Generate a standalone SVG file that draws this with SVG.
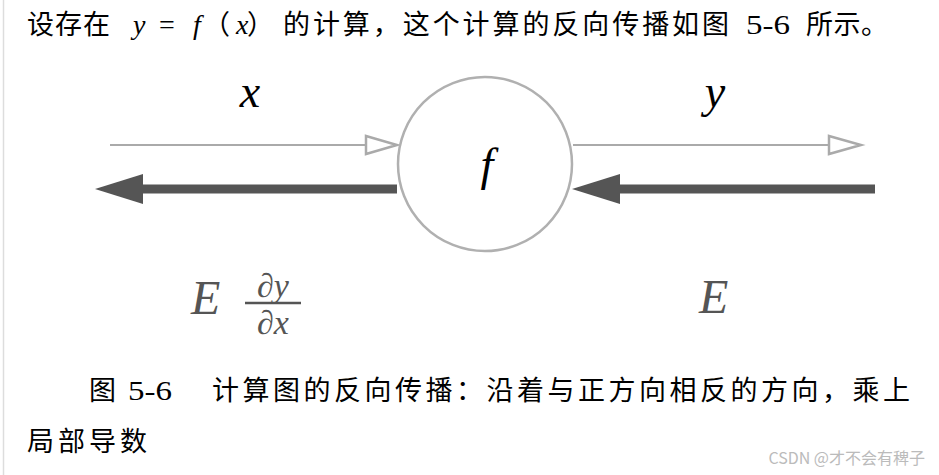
<svg xmlns="http://www.w3.org/2000/svg" width="939" height="475" viewBox="0 0 939 475">
<defs>
<style>
.cjk{font-family:"Noto Sans CJK SC","Noto Sans",sans-serif;font-size:27px;fill:#000}
.cjkser{font-family:"Liberation Serif","Noto Sans CJK SC",serif;font-size:28px;fill:#000}
.math{font-family:"Liberation Serif","DejaVu Serif",serif;font-style:italic;fill:#000}
.grey{fill:#555}
.thin{stroke:#aaa;stroke-width:2;fill:none}
.thick{stroke:#555;stroke-width:9;fill:none}
.openhead{fill:#fff;stroke:#aaa;stroke-width:2.5}
.solidhead{fill:#555;stroke:none}
</style>
</defs>
<rect width="939" height="475" fill="#fff"/>
<line x1="3.5" y1="0" x2="3.5" y2="475" stroke="#ddd" stroke-width="1.5"/>

<g id="intro">
<text class="cjk" x="27" y="34" textLength="83">设存在</text>
<text class="math" x="133" y="34" font-size="28">y</text>
<text class="cjkser" x="159" y="34">=</text>
<text class="math" x="193" y="34" font-size="28">f</text>
<text class="cjk" x="203" y="34">（</text>
<text class="math" x="236" y="34" font-size="28">x</text>
<text class="cjk" x="247" y="34">）</text>
<text class="cjk" x="283" y="34" textLength="446">的计算，这个计算的反向传播如图</text>
<text class="cjkser" x="746" y="34" font-size="31" textLength="44" lengthAdjust="spacingAndGlyphs">5-6</text>
<text class="cjk" x="806" y="34" textLength="82">所示。</text>
</g>

<g id="connectors">
<line class="thin" x1="110" y1="145" x2="392" y2="145"/>
<polygon class="openhead" points="366,136 397,145 366,154"/>
<line class="thick" x1="397" y1="189" x2="140" y2="189"/>
<polygon class="solidhead" points="95,189 143,174 143,204"/>
<line class="thin" x1="573" y1="145" x2="857" y2="145"/>
<polygon class="openhead" points="829,136 861,145 829,154"/>
<line class="thick" x1="875" y1="189" x2="615" y2="189"/>
<polygon class="solidhead" points="572,189 620,174 620,204"/>
</g>

<g id="node-f">
<circle cx="485" cy="164" r="87" fill="#fff" stroke="#b0b0b0" stroke-width="2.5"/>
<text class="math" x="487" y="180" font-size="46" text-anchor="middle">f</text>
</g>

<g id="label-x"><text class="math" x="250" y="107" font-size="46" text-anchor="middle">x</text></g>
<g id="label-y"><text class="math" x="715" y="107" font-size="46" text-anchor="middle">y</text></g>

<g id="label-left">
<text class="math grey" x="191" y="314" font-size="48">E</text>
<text class="math grey" x="273" y="297" font-size="34" text-anchor="middle">∂y</text>
<line x1="245" y1="303" x2="301" y2="303" stroke="#555" stroke-width="2.5"/>
<text class="math grey" x="273" y="334" font-size="34" text-anchor="middle">∂x</text>
</g>
<g id="label-right"><text class="math grey" x="699" y="313" font-size="48">E</text></g>

<g id="caption">
<text class="cjk" x="89" y="400" font-size="29">图</text>
<text class="cjkser" x="128" y="400" font-size="32" textLength="44" lengthAdjust="spacingAndGlyphs">5-6</text>
<text class="cjk" x="212" y="400" font-size="29" textLength="698">计算图的反向传播：沿着与正方向相反的方向，乘上</text>
<text class="cjk" x="27" y="451" font-size="29" textLength="120">局部导数</text>
</g>

<text x="925" y="464" font-family="'Noto Sans CJK SC','Noto Sans',sans-serif" font-size="16" fill="#bbb" text-anchor="end">CSDN @才不会有稗子</text>
</svg>
